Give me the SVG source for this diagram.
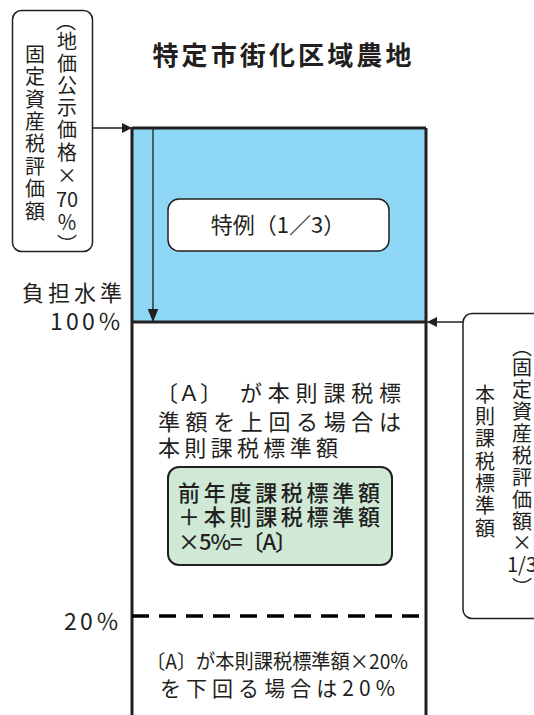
<svg xmlns="http://www.w3.org/2000/svg" width="534" height="715" viewBox="0 0 534 715">
<style>
text{font-family:"Noto Sans CJK JP","Noto Sans",sans-serif;fill:#231f20}
.v{font-size:20px;text-anchor:middle;dominant-baseline:central}
.box{fill:#fff;stroke:#231f20;stroke-width:1.5}
.thin{stroke:#231f20;stroke-width:1.3;fill:none}
.lbl{font-size:22px}
</style>
<defs>
<marker id="ah" viewBox="0 0 10 10" refX="10" refY="5" markerWidth="10" markerHeight="10" markerUnits="userSpaceOnUse" orient="auto">
<path d="M0,0 L10,5 L0,10 Z" fill="#231f20"/>
</marker>
<marker id="ahb" viewBox="0 0 16 13" refX="16" refY="6.5" markerWidth="13" markerHeight="16" markerUnits="userSpaceOnUse" orient="auto">
<path d="M0,0 L16,6.5 L0,13 Z" fill="#231f20"/>
</marker>
</defs>

<g id="title"><text x="282" y="65" font-size="26" font-weight="bold" text-anchor="middle" textLength="259" lengthAdjust="spacing">特定市街化区域農地</text></g>

<g id="main-area">
<rect x="132" y="128" width="294" height="194" fill="#8ed8f5"/>
<path d="M132,128 H426 M132,322 H426 M132,128 V715 M426,128 V715" stroke="#231f20" stroke-width="3" fill="none"/>
<path d="M132,616 H426" stroke="#000" stroke-width="3.5" stroke-dasharray="17 10" fill="none"/>
</g>

<g id="special-box">
<rect x="168" y="199" width="221" height="52" rx="11" class="box" stroke-width="2"/>
<text x="278" y="233" class="lbl" text-anchor="middle">特例（1／3）</text>
</g>

<g id="left-box">
<rect x="12.5" y="10.5" width="80" height="241" rx="9" class="box"/>
<text x="66" y="20" class="v" font-size="21">︵</text>
<text x="67" y="40" class="v">地</text>
<text x="67" y="62" class="v">価</text>
<text x="67" y="84" class="v">公</text>
<text x="67" y="106" class="v">示</text>
<text x="67" y="128" class="v">価</text>
<text x="67" y="151" class="v">格</text>
<text x="67" y="174" class="v">×</text>
<text x="67" y="198" class="v">70</text>
<text x="67" y="221" class="v">％</text>
<text x="67" y="243" class="v" font-size="21">︶</text>
<text x="35" y="53" class="v">固</text>
<text x="35" y="75.5" class="v">定</text>
<text x="35" y="98" class="v">資</text>
<text x="35" y="120" class="v">産</text>
<text x="35" y="142.5" class="v">税</text>
<text x="35" y="165" class="v">評</text>
<text x="35" y="187.5" class="v">価</text>
<text x="35" y="210" class="v">額</text>
</g>

<g id="right-box">
<rect x="463" y="313.5" width="90" height="305" rx="9" class="box"/>
<text x="522" y="346" class="v">︵</text>
<text x="522" y="366" class="v">固</text>
<text x="522" y="388" class="v">定</text>
<text x="522" y="410" class="v">資</text>
<text x="522" y="432" class="v">産</text>
<text x="522" y="454" class="v">税</text>
<text x="522" y="476" class="v">評</text>
<text x="522" y="498" class="v">価</text>
<text x="522" y="520" class="v">額</text>
<text x="522" y="541" class="v">×</text>
<text x="522" y="563" class="v">1/3</text>
<text x="522" y="586" class="v">︶</text>
<text x="485" y="393" class="v">本</text>
<text x="485" y="415" class="v">則</text>
<text x="485" y="437" class="v">課</text>
<text x="485" y="460" class="v">税</text>
<text x="485" y="482" class="v">標</text>
<text x="485" y="504" class="v">準</text>
<text x="485" y="527" class="v">額</text>
</g>

<g id="labels">
<text x="122" y="301" class="lbl" text-anchor="end" textLength="100" lengthAdjust="spacing">負担水準</text>
<text x="121" y="330" font-size="23" text-anchor="end" textLength="71" lengthAdjust="spacing">100％</text>
<text x="119" y="630" font-size="23" text-anchor="end" textLength="55" lengthAdjust="spacing">20％</text>
</g>

<g id="upper-text">
<text x="156" y="401" class="lbl">〔Ａ〕</text>
<text x="240" y="401" class="lbl" textLength="161" lengthAdjust="spacing">が本則課税標</text>
<text x="158" y="430" class="lbl" textLength="243" lengthAdjust="spacing">準額を上回る場合は</text>
<text x="158" y="456" class="lbl" textLength="180" lengthAdjust="spacing">本則課税標準額</text>
</g>

<g id="formula-box">
<rect x="168" y="467" width="224" height="98" rx="11" fill="#cfe9d6" stroke="#231f20" stroke-width="2"/>
<text x="178" y="501" class="lbl" font-weight="500" textLength="202" lengthAdjust="spacing">前年度課税標準額</text>
<text x="178" y="525" class="lbl" font-weight="500" textLength="202" lengthAdjust="spacing">＋本則課税標準額</text>
<text x="178" y="550" class="lbl" font-weight="500" textLength="119" lengthAdjust="spacing">×5%=〔A〕</text>
</g>

<g id="lower-text">
<text x="146" y="669" font-size="20" textLength="262" lengthAdjust="spacingAndGlyphs">〔A〕が本則課税標準額×20%</text>
<text x="160" y="696" font-size="21" textLength="235" lengthAdjust="spacing">を下回る場合は20%</text>
</g>

<g id="connectors">
<line x1="93" y1="128" x2="132" y2="128" class="thin" marker-end="url(#ah)"/>
<line x1="153" y1="128" x2="153" y2="322" class="thin" marker-end="url(#ahb)"/>
<line x1="463" y1="322" x2="427" y2="322" class="thin" marker-end="url(#ah)"/>
</g>
</svg>
